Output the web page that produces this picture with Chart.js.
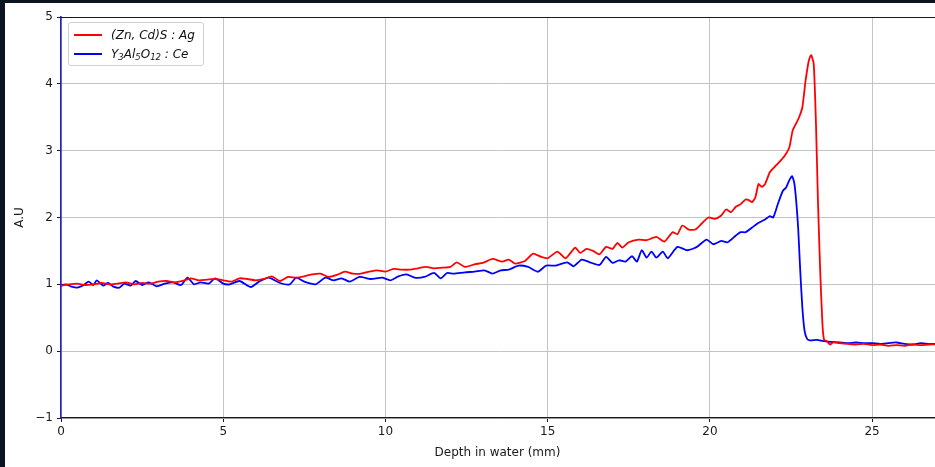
<!DOCTYPE html>
<html>
<head>
<meta charset="utf-8">
<script src="https://cdn.jsdelivr.net/npm/chart.js@4.4.1/dist/chart.umd.min.js"></script>
<style>
  html, body { margin: 0; padding: 0; background: #0c1422; width: 935px; height: 467px; overflow: hidden; }
  #wrap { position: absolute; left: 5px; top: 3px; width: 940px; height: 464px; background: #ffffff; }
  #c { display: block; width: 940px; height: 464px; }
  #legend { position: absolute; left: 68px; top: 22px; width: 136px; height: 44px; box-sizing: border-box;
    border: 1px solid #d0d0d0; border-radius: 3px; background: rgba(255,255,255,0.85);
    font-family: "DejaVu Sans", sans-serif; font-size: 12px; color: #111; }
  .item { position: absolute; left: 0; height: 16px; line-height: 16px; white-space: nowrap; }
  .swatch { position: absolute; left: 5px; top: 7px; width: 28px; height: 2px; }
  .lbl { position: absolute; left: 42px; top: 0; font-style: italic; }
  .lbl sub { font-size: 8.5px; vertical-align: -2px; line-height: 0; }
</style>
</head>
<body>
<div id="wrap"><canvas id="c" width="940" height="464"></canvas></div>
<div id="legend"></div>
<script>
// ---------- data ----------
const redDepth = [0.0,0.25,0.5,0.75,1.0,1.25,1.5,1.75,2.0,2.25,2.5,2.75,3.0,3.25,3.5,3.75,4.0,4.25,4.5,4.75,
  5.0,5.25,5.5,5.75,6.0,6.25,6.5,6.75,7.0,7.25,7.5,7.75,8.0,8.25,8.5,8.75,9.0,9.25,9.5,9.75,
  10.0,10.25,10.5,10.75,11.0,11.25,11.5,11.75,12.0,12.2,12.45,12.75,13.0,13.3,13.6,13.8,14.0,14.3,14.55,14.8,
  15.0,15.3,15.55,15.85,16.0,16.2,16.4,16.6,16.8,17.0,17.15,17.3,17.5,17.8,18.05,18.35,18.6,18.85,19.0,19.15,
  19.35,19.55,19.75,19.95,20.15,20.35,20.5,20.65,20.8,20.95,21.1,21.2,21.3,21.4,21.5,21.6,21.7,21.85,22.0,22.1,
  22.3,22.45,22.55,22.65,22.75,22.85,22.95,23.05,23.12,23.2,23.27,23.33,23.4,23.47,23.52,23.6,23.7,23.8,24.0,24.25,
  24.5,24.75,25.0,25.25,25.5,25.75,26.0,26.25,26.5,26.75,27.0];
const redAU = [0.98,1.00,1.01,0.99,1.00,1.02,1.00,1.01,1.03,1.00,1.02,1.01,1.04,1.05,1.03,1.05,1.09,1.06,1.07,1.08,
  1.06,1.04,1.09,1.08,1.06,1.08,1.12,1.05,1.11,1.10,1.12,1.15,1.16,1.11,1.14,1.19,1.16,1.16,1.19,1.21,
  1.19,1.23,1.22,1.22,1.24,1.26,1.24,1.25,1.26,1.33,1.26,1.30,1.32,1.38,1.34,1.37,1.31,1.35,1.46,1.41,
  1.39,1.49,1.39,1.55,1.47,1.53,1.50,1.45,1.56,1.53,1.62,1.55,1.63,1.67,1.66,1.71,1.64,1.78,1.75,1.88,
  1.82,1.82,1.91,2.00,1.98,2.03,2.12,2.08,2.16,2.20,2.27,2.26,2.23,2.30,2.50,2.46,2.50,2.68,2.76,2.81,
  2.92,3.05,3.30,3.40,3.50,3.65,4.05,4.35,4.43,4.30,3.40,2.26,1.20,0.40,0.17,0.15,0.10,0.13,0.12,0.11,
  0.10,0.11,0.09,0.10,0.08,0.09,0.08,0.10,0.09,0.10,0.10];

const blueDepth = [0.0,0.15,0.3,0.5,0.7,0.85,1.0,1.1,1.3,1.45,1.6,1.8,1.95,2.15,2.3,2.5,2.7,2.95,3.2,3.45,
  3.7,3.9,4.1,4.3,4.55,4.75,5.0,5.2,5.5,5.85,6.1,6.4,6.75,7.05,7.25,7.5,7.85,8.15,8.4,8.65,
  8.9,9.2,9.55,9.9,10.15,10.4,10.65,10.9,11.2,11.5,11.7,11.9,12.1,12.45,12.75,13.05,13.3,13.55,13.8,14.1,
  14.4,14.7,14.95,15.25,15.6,15.8,16.05,16.3,16.6,16.8,17.0,17.2,17.4,17.6,17.75,17.9,18.05,18.2,18.35,18.55,
  18.7,19.0,19.3,19.6,19.9,20.1,20.35,20.55,20.8,20.95,21.1,21.3,21.5,21.7,21.85,21.95,22.1,22.25,22.35,22.45,
  22.53,22.6,22.66,22.72,22.78,22.85,22.92,23.0,23.1,23.3,23.5,23.7,24.0,24.25,24.5,24.75,25.0,25.25,25.5,25.75,
  26.0,26.25,26.5,26.75,27.0];
const blueAU = [0.99,1.00,0.97,0.95,0.99,1.04,0.99,1.06,0.98,1.02,0.97,0.95,1.01,0.98,1.05,0.99,1.03,0.97,1.01,1.03,
  0.99,1.10,1.00,1.03,1.01,1.09,1.01,1.00,1.05,0.96,1.04,1.10,1.02,1.00,1.10,1.04,1.00,1.10,1.06,1.09,
  1.04,1.11,1.08,1.10,1.06,1.12,1.15,1.10,1.11,1.17,1.09,1.17,1.16,1.18,1.19,1.21,1.16,1.21,1.22,1.28,
  1.26,1.19,1.28,1.28,1.33,1.27,1.37,1.33,1.29,1.41,1.32,1.36,1.34,1.42,1.34,1.51,1.40,1.49,1.40,1.49,
  1.39,1.56,1.51,1.56,1.67,1.60,1.65,1.63,1.73,1.78,1.78,1.85,1.92,1.97,2.02,2.00,2.21,2.40,2.45,2.56,
  2.62,2.52,2.25,1.85,1.25,0.65,0.30,0.18,0.16,0.17,0.15,0.14,0.13,0.12,0.13,0.12,0.12,0.11,0.12,0.13,
  0.11,0.10,0.12,0.11,0.11];

const seriesLabels = ['(Zn, Cd)S : Ag', 'Y3Al5O12 : Ce'];
const seriesLegendHtml = ['(Zn, Cd)S : Ag', 'Y<sub>3</sub>Al<sub>5</sub>O<sub>12</sub> : Ce'];
const seriesColors = ['#ff0000', '#0000ff'];
const xTicks = [0, 5, 10, 15, 20, 25];
const yTicks = [-1, 0, 1, 2, 3, 4, 5];
const xTitle = 'Depth in water (mm)';
const yTitle = 'A.U';

// ---------- chart ----------
const toPts = (xs, ys) => xs.map((x, i) => ({ x: x, y: ys[i] }));
const FONT = { family: 'DejaVu Sans', size: 12 };

const framePlugin = {
  id: 'frame',
  afterDraw(chart) {
    const { ctx, chartArea: a } = chart;
    ctx.save();
    ctx.strokeStyle = '#1a1a1a';
    ctx.lineWidth = 1;
    ctx.beginPath();
    ctx.moveTo(a.left, a.top + 0.5);
    ctx.lineTo(a.right, a.top + 0.5);
    ctx.stroke();
    // axis titles
    ctx.fillStyle = '#1a1a1a';
    ctx.font = '12px "DejaVu Sans"';
    ctx.textAlign = 'center';
    ctx.textBaseline = 'middle';
    ctx.fillText(xTitle, (a.left + 933) / 2 - 2, 450);
    ctx.translate(15, (a.top + a.bottom) / 2);
    ctx.rotate(-Math.PI / 2);
    ctx.fillText(yTitle, 0, 0);
    ctx.restore();
  }
};

new Chart(document.getElementById('c'), {
  type: 'line',
  data: {
    datasets: [
      { label: seriesLabels[0], data: toPts(redDepth, redAU), borderColor: seriesColors[0],
        borderWidth: 1.8, pointRadius: 0, tension: 0.2 },
      { label: seriesLabels[1], data: toPts(blueDepth, blueAU), borderColor: seriesColors[1],
        borderWidth: 1.8, pointRadius: 0, tension: 0.2 }
    ]
  },
  options: {
    responsive: false,
    animation: false,
    devicePixelRatio: 1,
    layout: { padding: { top: 14, right: 8, left: 0, bottom: 0 } },
    plugins: { legend: { display: false }, tooltip: { enabled: false } },
    scales: {
      x: {
        type: 'linear', min: 0, max: 27,
        afterBuildTicks: s => { s.ticks = xTicks.map(v => ({ value: v })); },
        afterFit: s => { s.height = 49; },
        grid: { color: '#c4c4c4', lineWidth: 1, tickLength: 4, tickColor: '#1a1a1a' },
        border: { color: '#1a1a1a', width: 1.2 },
        ticks: { font: FONT, color: '#1a1a1a', padding: 3, maxRotation: 0 }
      },
      y: {
        type: 'linear', min: -1, max: 5,
        afterBuildTicks: s => { s.ticks = yTicks.map(v => ({ value: v })); },
        afterFit: s => { s.width = 56; },
        grid: { color: '#c4c4c4', lineWidth: 1, tickLength: 4, tickColor: '#1a1a1a' },
        border: { color: '#1f1fd0', width: 1.6 },
        ticks: { font: FONT, color: '#1a1a1a', padding: 4,
          callback: v => (v < 0 ? '\u2212' + Math.abs(v) : String(v)) }
      }
    }
  },
  plugins: [framePlugin]
});

// HTML legend (subscripts kept as real text)
const leg = document.getElementById('legend');
seriesLegendHtml.forEach((h, i) => {
  const d = document.createElement('div');
  d.className = 'item';
  d.style.top = (4 + i * 19) + 'px';
  d.style.width = '100%';
  d.innerHTML = '<span class="swatch" style="background:' + seriesColors[i] + '"></span><span class="lbl">' + h + '</span>';
  leg.appendChild(d);
});
</script>
</body>
</html>
